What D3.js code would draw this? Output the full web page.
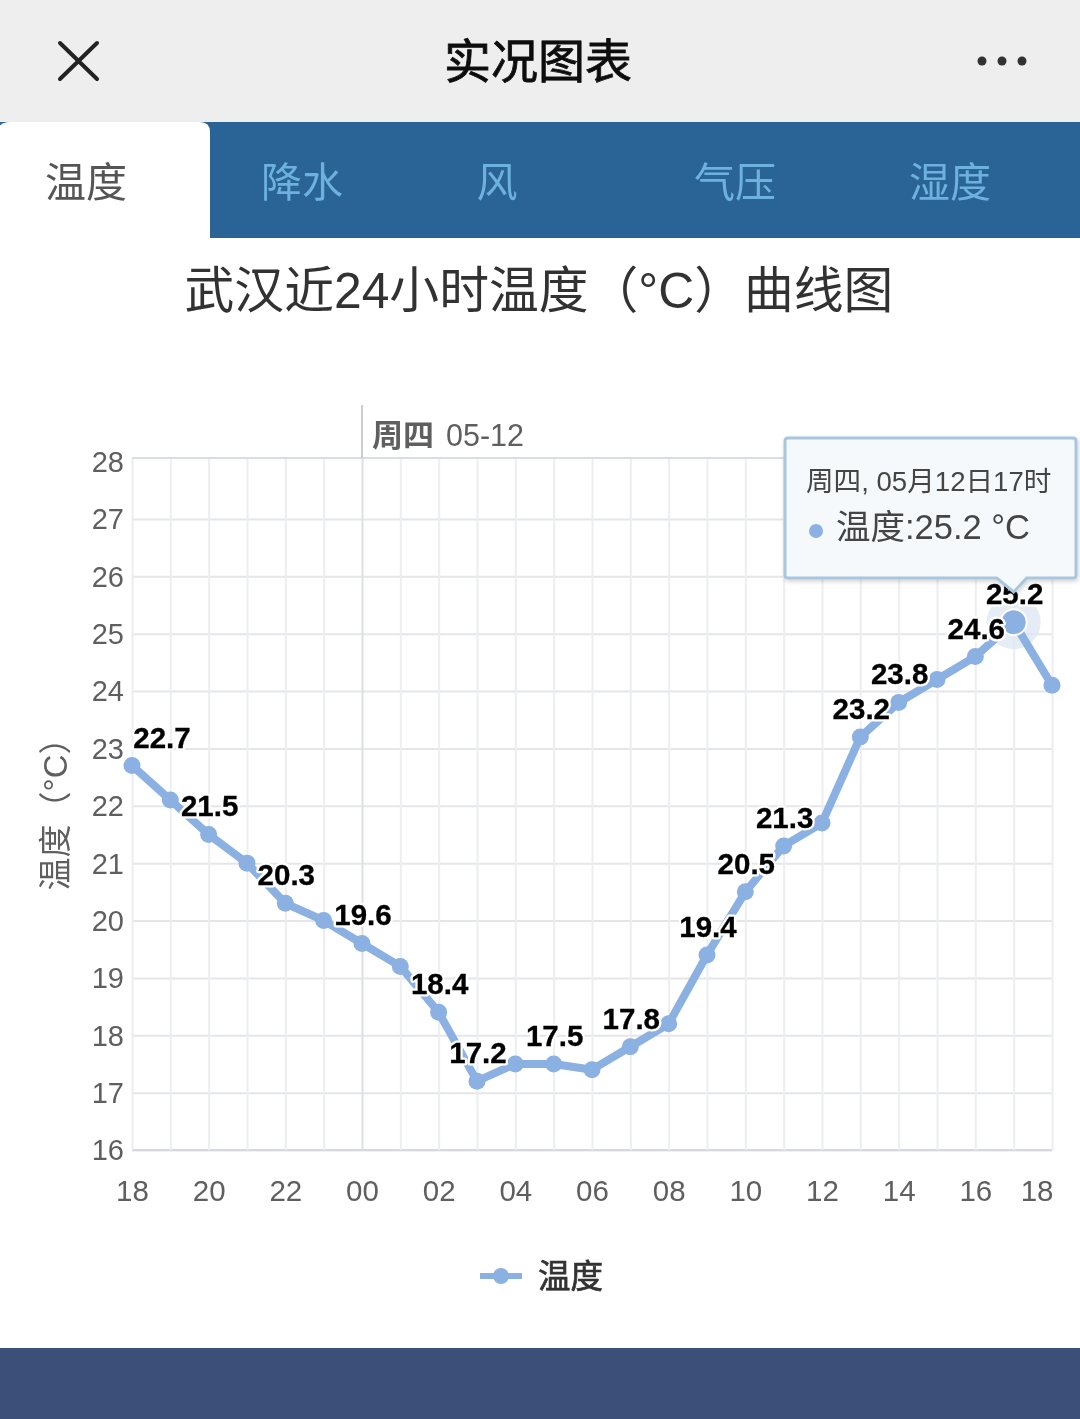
<!DOCTYPE html>
<html><head><meta charset="utf-8">
<script src="https://cdn.jsdelivr.net/npm/d3@7/dist/d3.min.js"></script>
<style>
html,body{margin:0;padding:0;background:#fff;overflow:hidden}
svg{display:block}
text{font-family:"Liberation Sans","Noto Sans CJK SC",sans-serif}
</style></head><body><svg id="c" width="1080" height="1419"></svg>
<script>
const hours=["18","19","20","21","22","23","00","01","02","03","04","05","06","07","08","09","10","11","12","13","14","15","16","17","18"];
const temps=[22.7,22.1,21.5,21.0,20.3,20.0,19.6,19.2,18.4,17.2,17.5,17.5,17.4,17.8,18.2,19.4,20.5,21.3,21.7,23.2,23.8,24.2,24.6,25.2,24.1];
const labelled=[0,2,4,6,8,9,11,13,15,16,17,19,20,22,23];
const yTicks=[16,17,18,19,20,21,22,23,24,25,26,27,28];
const tabs=["温度","降水","风","气压","湿度"];
const tabCentres=[86,302,497,735,950];
const activeIndex=23;

const svg=d3.select("#c");
const defs=svg.append("defs");
const sh=defs.append("filter").attr("id","sh").attr("x","-10%").attr("y","-10%").attr("width","120%").attr("height","125%");
sh.append("feDropShadow").attr("dx",1).attr("dy",2).attr("stdDeviation",2).attr("flood-color","#000").attr("flood-opacity",.18);
const soft=defs.append("filter").attr("id","soft");
soft.append("feGaussianBlur").attr("stdDeviation",.5);

const root=svg.append("g").attr("filter","url(#soft)");
root.append("rect").attr("x",-5).attr("y",-5).attr("width",1090).attr("height",1429).attr("fill","#fff");
// app chrome
root.append("rect").attr("x",-5).attr("y",-5).attr("width",1090).attr("height",127).attr("fill","#eeeeee");
root.append("path").attr("d","M60 43L97 79M97 43L60 79").attr("stroke","#222").attr("stroke-width",4).attr("stroke-linecap","round");
root.append("text").attr("x",538).attr("y",78).attr("text-anchor","middle").attr("font-size",47).attr("fill","#111").attr("stroke","#111").attr("stroke-width",.8).text("实况图表");
root.selectAll("circle.more").data([982,1002,1022]).join("circle").attr("class","more").attr("cx",d=>d).attr("cy",61).attr("r",4.5).attr("fill","#333");
root.append("rect").attr("x",-5).attr("y",122).attr("width",1090).attr("height",116).attr("fill","#2c6496");
root.append("path").attr("d","M-5 132Q0 122 10 122H200Q210 122 210 132V240H-5Z").attr("fill","#fff");
root.selectAll("text.tab").data(tabs).join("text").attr("class","tab")
  .attr("x",(d,i)=>tabCentres[i]).attr("y",197).attr("text-anchor","middle").attr("font-size",41)
  .attr("fill",(d,i)=>i===0?"#555":"#6db1df").text(d=>d);
root.append("text").attr("x",539).attr("y",308).attr("text-anchor","middle").attr("font-size",49.8).attr("fill","#333").text("武汉近24小时温度（°C）曲线图");
root.append("rect").attr("x",-5).attr("y",1348).attr("width",1090).attr("height",80).attr("fill","#3a4f78");

// scales
const x=d3.scaleLinear().domain([0,hours.length-1]).range([132,1052]);
const y=d3.scaleLinear().domain([16,28]).range([1150,461.5]);
const plotTop=458;

// y axis + horizontal grid
const gy=root.append("g").attr("transform","translate(132,0)")
  .call(d3.axisLeft(y).tickValues(yTicks).tickFormat(d3.format("d")).tickSize(-920).tickPadding(8));
gy.select(".domain").remove();
gy.selectAll("line").attr("stroke",d=>d===28?"none":"#e4e6ea").attr("stroke-width",2);
gy.selectAll("text").attr("font-size",29).attr("fill","#5f5f5f").attr("dy","0.34em")
  .attr("font-family",'"Liberation Sans",sans-serif');

// x axis + vertical grid
const gx=root.append("g").attr("transform","translate(0,1150)")
  .call(d3.axisBottom(x).tickValues(d3.range(hours.length)).tickSize(-(1150-plotTop)).tickPadding(30)
    .tickFormat(i=>i%2===0?hours[i]:""));
gx.select(".domain").attr("stroke","#d5d9df").attr("stroke-width",2).attr("d","M132 0H1052");
gx.selectAll("line").attr("stroke",(i)=>i===6?"#dcdfe5":"#eceef1").attr("stroke-width",2);
gx.selectAll("text").attr("font-size",29.5).attr("fill","#5f5f5f")
  .attr("font-family",'"Liberation Sans",sans-serif')
  .attr("text-anchor",i=>i===hours.length-1?"end":"middle")
  .attr("dx",i=>i===hours.length-1?1:0);
root.append("line").attr("x1",132).attr("x2",1052).attr("y1",plotTop).attr("y2",plotTop).attr("stroke","#d9dee6").attr("stroke-width",2);

// day separator
root.append("line").attr("x1",x(6)).attr("x2",x(6)).attr("y1",405).attr("y2",plotTop).attr("stroke","#c9ccd2").attr("stroke-width",2);
const dayLabel=root.append("text").attr("x",x(6)+10).attr("y",446).attr("fill","#5f5f5f").attr("font-size",30.5);
dayLabel.append("tspan").attr("font-weight",700).attr("font-size",31).text("周四");
dayLabel.append("tspan").attr("dx",12).text("05-12");

// axis title
root.append("text").attr("transform","translate(67,806) rotate(-90)").attr("text-anchor","middle")
  .attr("font-size",33).attr("fill","#5f5f5f").text("温度（°C）");

// series
const blue="#8bb0e2";
root.append("circle").attr("cx",x(activeIndex)).attr("cy",y(temps[activeIndex])).attr("r",27).attr("fill","#dfe7f2").attr("opacity",.8);
root.append("path").datum(temps)
  .attr("d",d3.line().x((d,i)=>x(i)).y(d=>y(d)))
  .attr("fill","none").attr("stroke",blue).attr("stroke-width",8).attr("stroke-linejoin","round");
root.selectAll("circle.pt").data(temps).join("circle").attr("class","pt")
  .attr("cx",(d,i)=>x(i)).attr("cy",d=>y(d)).attr("r",(d,i)=>i===activeIndex?13:8.5)
  .attr("fill",blue).attr("stroke",(d,i)=>i===activeIndex?"#fff":"none").attr("stroke-width",2);

// data labels: white halo layer, then heavy text layer
const labelX=i=>i===0?x(i)+30:x(i)+1;
const labelY=i=>y(temps[i])-18;
root.selectAll("text.halo").data(labelled).join("text").attr("class","halo")
  .attr("x",labelX).attr("y",labelY)
  .attr("text-anchor","middle").attr("font-size",29.5).attr("font-weight",700).attr("fill","#fff")
  .attr("stroke","#fff").attr("stroke-width",5).attr("stroke-linejoin","round")
  .text(i=>temps[i].toFixed(1));
root.selectAll("text.lab").data(labelled).join("text").attr("class","lab")
  .attr("x",labelX).attr("y",labelY)
  .attr("text-anchor","middle").attr("font-size",29.5).attr("font-weight",700).attr("fill","#000")
  .attr("stroke","#000").attr("stroke-width",.3)
  .text(i=>temps[i].toFixed(1));

// tooltip
const tx=x(activeIndex);
const tip=root.append("g");
tip.append("path")
  .attr("d",`M788 438H1073Q1076 438 1076 441V575Q1076 578 1073 578H${tx+13}L${tx} 592L${tx-17} 578H788Q785 578 785 575V441Q785 438 788 438Z`)
  .attr("fill","#f6f9fb").attr("stroke","#a8c6de").attr("stroke-width",3).attr("filter","url(#sh)");
tip.append("text").attr("x",806).attr("y",491).attr("font-size",27.6).attr("fill","#444").text(`周四, 05月12日${hours[activeIndex]}时`);
tip.append("circle").attr("cx",816).attr("cy",531).attr("r",7).attr("fill",blue);
tip.append("text").attr("x",836).attr("y",539).attr("font-size",34.5).attr("fill","#444").text(`温度:${temps[activeIndex].toFixed(1)} °C`);

// legend
root.append("line").attr("x1",480).attr("x2",522).attr("y1",1276).attr("y2",1276).attr("stroke",blue).attr("stroke-width",6);
root.append("circle").attr("cx",501).attr("cy",1276).attr("r",8).attr("fill",blue);
root.append("text").attr("x",538).attr("y",1288).attr("font-size",32.5).attr("fill","#333").attr("stroke","#333").attr("stroke-width",.7).text("温度");
</script></body></html>
